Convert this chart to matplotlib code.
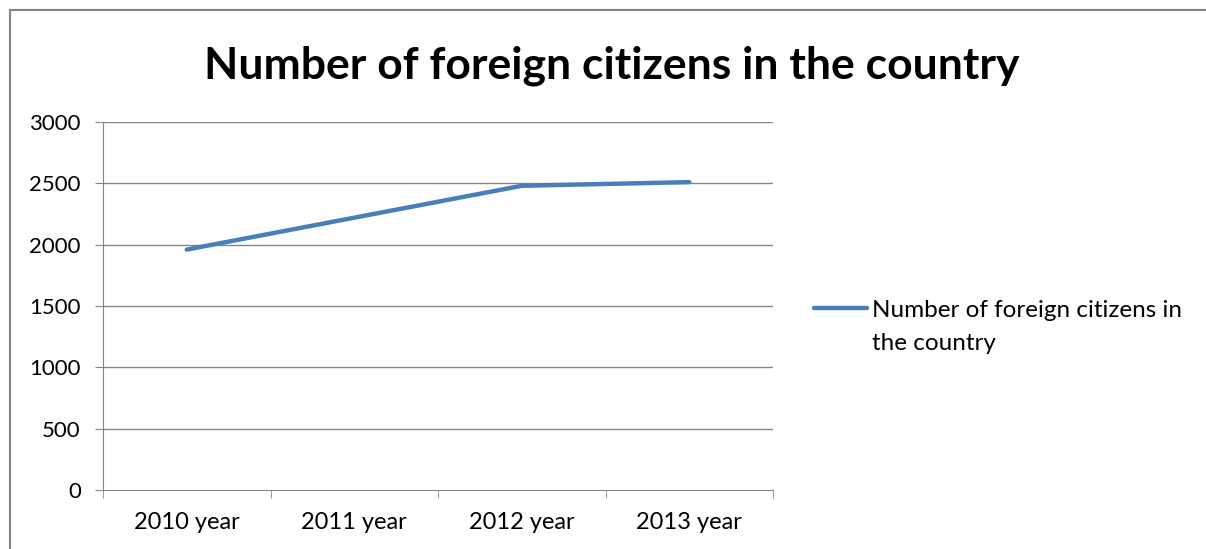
import matplotlib.pyplot as plt
from matplotlib.lines import Line2D

# data
years = ["2010 year", "2011 year", "2012 year", "2013 year"]
citizens = [1960, 2220, 2480, 2510]
y_ticks = [0, 500, 1000, 1500, 2000, 2500, 3000]
series_name = "Number of foreign citizens in\nthe country"
title = "Number of foreign citizens in the country"

plt.rcParams["font.family"] = ["Lato", "DejaVu Sans"]

W, H = 1206, 549
fig = plt.figure(figsize=(W / 100, H / 100), dpi=100)
ax = fig.add_axes([103 / W, 1 - 490 / H, (773 - 103) / W, (490 - 122) / H])

line_color = "#4A7EBB"
grid_color = "#868686"

x = list(range(len(years)))
ax.plot(x, citizens, color=line_color, lw=3.2, solid_capstyle="round",
        solid_joinstyle="round", zorder=3)

ax.set_xlim(-0.5, len(years) - 0.5)
ax.set_ylim(0, 3000)
ax.set_yticks(y_ticks)
ax.set_yticklabels([str(v) for v in y_ticks])
for v in y_ticks[1:]:
    ax.axhline(v, color=grid_color, lw=1, zorder=1)

# category labels sit between the tick marks
ax.set_xticks(x)
ax.set_xticklabels(years)
ax.set_xticks([i - 0.5 for i in range(len(years) + 1)], minor=True)
ax.tick_params(axis="x", which="major", length=0, pad=16, labelsize=17)
ax.tick_params(axis="x", which="minor", length=6, color=grid_color, direction="out")
ax.tick_params(axis="y", length=6, color=grid_color, direction="out", labelsize=16, pad=10)

for side in ["top", "right"]:
    ax.spines[side].set_visible(False)
ax.spines["left"].set_color(grid_color)
ax.spines["bottom"].set_color(grid_color)

fig.text(612 / W, 1 - 66 / H, title, ha="center", va="center",
         fontsize=32, fontweight="bold")

# legend entry: line sample beside the first line of the label
fig.add_artist(Line2D([814 / W, 867 / W], [1 - 308 / H, 1 - 308 / H],
                      color=line_color, lw=3.2, solid_capstyle="round"))
fig.text(872 / W, 1 - 350 / H, series_name, ha="left", va="baseline",
         fontsize=17.5, linespacing=1.72)

# outer chart border (left and top edges)
fig.add_artist(Line2D([9.5 / W, 9.5 / W], [0, 1 - 9.5 / H], color=grid_color, lw=1.5))
fig.add_artist(Line2D([9.5 / W, 1], [1 - 9.5 / H, 1 - 9.5 / H], color=grid_color, lw=1.5))

fig.savefig("out.png", dpi=100)
